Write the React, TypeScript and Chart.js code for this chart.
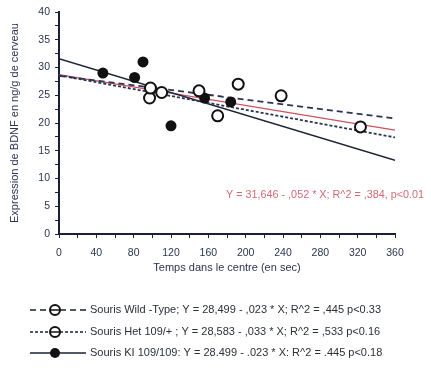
import { useEffect, useRef } from "react";
import { Chart, registerables } from "chart.js";
Chart.register(...registerables);

// Data
const wtX = [98, 110, 192, 238];
const wtY = [26.3, 25.5, 27, 24.9];
const hetX = [97, 150, 170, 323];
const hetY = [24.5, 25.8, 21.3, 19.3];
const kiX = [47, 81, 90, 120, 156, 184];
const kiY = [29, 28.2, 31, 19.5, 24.5, 23.8];

const fitX = [0, 360];
const wtFit = [28.5, 20.8];
const hetFit = [28.6, 17.4];
const kiFit = [31.6, 13.3];
const allFit = [28.7, 18.7];

const legendLabels = [
  "Souris Wild -Type; Y = 28,499 - ,023 * X; R^2 = ,445 p<0.33",
  "Souris Het 109/+ ; Y = 28,583 - ,033 * X; R^2 = ,533 p<0.16",
  "Souris KI 109/109: Y = 28.499 - .023 * X: R^2 = .445 p<0.18",
];
const redLabel = "Y = 31,646 - ,052 * X; R^2 = ,384, p<0.01";
const xTitle = "Temps dans le centre (en sec)";
const yTitle = "Expression de BDNF en ng/g de cerveau";

const FONT = "'Liberation Sans', Arial, sans-serif";
const TXT = "#2b3550";

const pts = (xs: number[], ys: number[]) => xs.map((x, i) => ({ x, y: ys[i] }));

const overlay = {
  id: "overlay",
  afterDraw(chart: any) {
    const ctx = chart.ctx as CanvasRenderingContext2D;
    ctx.save();
    // red equation
    ctx.font = `10.8px ${FONT}`;
    ctx.fillStyle = "#d46a74";
    ctx.textAlign = "left";
    ctx.textBaseline = "middle";
    ctx.fillText(redLabel, 226, 195);

    // legend
    const rows = [310, 332, 353];
    const dashes = [[6, 4], [3, 2], []];
    rows.forEach((y, i) => {
      ctx.strokeStyle = "#1a2035";
      ctx.lineWidth = 1.5;
      ctx.setLineDash(dashes[i]);
      ctx.beginPath();
      ctx.moveTo(30, y);
      ctx.lineTo(86, y);
      ctx.stroke();
      ctx.setLineDash([]);
      ctx.beginPath();
      ctx.arc(55, y, 5, 0, Math.PI * 2);
      if (i === 2) {
        ctx.fillStyle = "#111";
        ctx.fill();
      } else {
        ctx.fillStyle = "#fff";
        ctx.fill();
        ctx.lineWidth = 2;
        ctx.strokeStyle = "#111";
        ctx.stroke();
        ctx.lineWidth = 1.5;
        ctx.beginPath();
        ctx.moveTo(51, y);
        ctx.lineTo(59, y);
        ctx.stroke();
      }
      ctx.font = `11px ${FONT}`;
      ctx.fillStyle = "#2a2f3a";
      ctx.textAlign = "left";
      ctx.fillText(legendLabels[i], 90, y);
    });
    ctx.restore();
  },
};

export default function App() {
  const ref = useRef<HTMLCanvasElement>(null);
  useEffect(() => {
    const chart = new Chart(ref.current!, {
      type: "scatter",
      data: {
        datasets: [
          {
            label: "WT",
            data: pts(wtX, wtY),
            pointRadius: 5.5,
            pointBackgroundColor: "#fff",
            pointBorderColor: "#111",
            pointBorderWidth: 2,
            order: 0,
          },
          {
            label: "Het",
            data: pts(hetX, hetY),
            pointRadius: 5.5,
            pointBackgroundColor: "#fff",
            pointBorderColor: "#111",
            pointBorderWidth: 2,
            order: 0,
          },
          {
            label: "KI",
            data: pts(kiX, kiY),
            pointRadius: 5.5,
            pointBackgroundColor: "#111",
            pointBorderColor: "#111",
            pointBorderWidth: 0,
            order: 0,
          },
          {
            label: "WT fit",
            data: pts(fitX, wtFit),
            showLine: true,
            pointRadius: 0,
            borderColor: "#2a3550",
            borderWidth: 1.8,
            borderDash: [6, 4],
            order: 1,
          },
          {
            label: "Het fit",
            data: pts(fitX, hetFit),
            showLine: true,
            pointRadius: 0,
            borderColor: "#2a3550",
            borderWidth: 1.8,
            borderDash: [3, 2],
            order: 1,
          },
          {
            label: "KI fit",
            data: pts(fitX, kiFit),
            showLine: true,
            pointRadius: 0,
            borderColor: "#1c2436",
            borderWidth: 1.5,
            order: 1,
          },
          {
            label: "All fit",
            data: pts(fitX, allFit),
            showLine: true,
            pointRadius: 0,
            borderColor: "#d0505e",
            borderWidth: 1.3,
            order: 1,
          },
        ],
      },
      options: {
        animation: false,
        responsive: false,
        layout: { padding: { left: 8, top: 12, right: 36, bottom: 101 } },
        plugins: { legend: { display: false }, tooltip: { enabled: false } },
        scales: {
          x: {
            type: "linear",
            min: 0,
            max: 360,
            afterFit: (s: any) => { s.height = 41; },
            ticks: {
              stepSize: 20,
              autoSkip: false,
              maxRotation: 0,
              color: TXT,
              font: { family: FONT, size: 10.5 },
              padding: 9,
              callback: (v: any) => (Number(v) % 40 === 0 ? String(v) : ""),
            },
            grid: {
              display: true,
              drawOnChartArea: false,
              drawTicks: true,
              tickLength: 4,
              color: "#1a2035",
            },
            border: { display: true, color: "#1a2035", width: 2 },
            title: {
              display: true,
              text: xTitle,
              color: TXT,
              font: { family: FONT, size: 11 },
              padding: { top: 2, bottom: 0 },
            },
          },
          y: {
            min: 0,
            max: 40,
            afterFit: (s: any) => { s.width = 51; },
            ticks: {
              stepSize: 2.5,
              autoSkip: false,
              color: TXT,
              font: { family: FONT, size: 10.5 },
              padding: 5,
              callback: (v: any) => (Number(v) % 5 === 0 ? String(v) : ""),
            },
            grid: {
              display: true,
              drawOnChartArea: false,
              drawTicks: true,
              tickLength: 4,
              color: "#1a2035",
            },
            border: { display: true, color: "#1a2035", width: 2 },
            title: {
              display: true,
              text: yTitle,
              color: TXT,
              font: { family: FONT, size: 11 },
              padding: { top: 0, bottom: 6 },
            },
          },
        },
      },
      plugins: [overlay],
    } as any);
    return () => chart.destroy();
  }, []);
  return (
    <div style={{ position: "fixed", left: 0, top: 0, width: 431, height: 376, background: "#fff" }}>
      <canvas ref={ref} width={431} height={376} style={{ width: 431, height: 376 }} />
    </div>
  );
}
